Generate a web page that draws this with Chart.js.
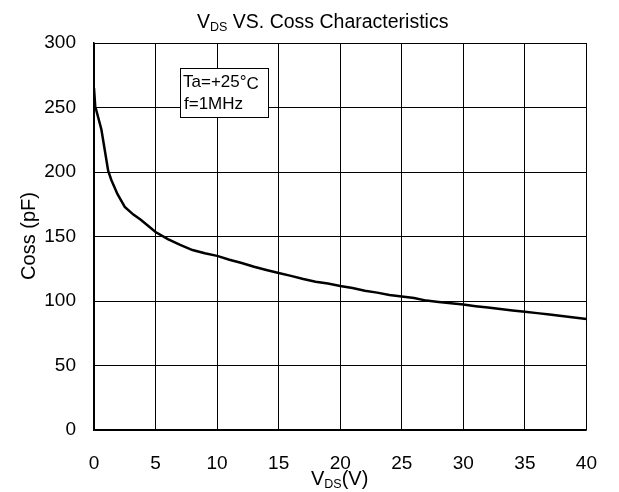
<!doctype html>
<html>
<head>
<title>VDS vs Coss</title>
<script src="https://cdn.jsdelivr.net/npm/chart.js@4/dist/chart.umd.min.js"></script>
<style>
  html, body { margin: 0; padding: 0; background: #fff; }
  #wrap { width: 619px; height: 492px; }
</style>
</head>
<body>
<div id="wrap"><canvas id="chart" width="619" height="492"></canvas></div>
<script>
// values
var vds = [0, 0.1, 0.6, 1.15, 1.4, 1.9, 2.5, 3.2, 3.8, 5, 6, 7, 8, 9, 10, 11, 12, 13, 14, 15, 16, 17, 18, 19, 20,
           21, 22, 23, 24, 25, 26, 27, 28, 29, 30, 31, 32, 33, 34, 35, 36, 37, 38, 39, 40];
var coss = [265, 251, 233, 201, 194, 183, 173, 167, 163, 153.5, 148, 143.5, 139.5, 137, 135, 132, 129.5, 126.5, 124, 121.7, 119.5, 117, 115, 113.5, 111.6,
            110, 108, 106.5, 104.6, 103.5, 102.3, 100.3, 99.3, 98.2, 97.2, 96, 94.9, 93.8, 92.7, 91.7, 90.6, 89.5, 88.3, 87.2, 86];
var xTicks = [0, 5, 10, 15, 20, 25, 30, 35, 40];
var yTicks = [0, 50, 100, 150, 200, 250, 300];

var FONT = "'Liberation Sans', Arial, sans-serif";

var points = vds.map(function(v, i) { return { x: v, y: coss[i] }; });

// draws "V" + subscript "DS" + rest, left aligned at x
function subText(ctx, x, base, size, subSize, rest) {
  ctx.font = size + 'px ' + FONT;
  ctx.fillText('V', x, base);
  x += ctx.measureText('V').width;
  ctx.font = subSize + 'px ' + FONT;
  ctx.fillText('DS', x, base + 3);
  x += ctx.measureText('DS').width;
  ctx.font = size + 'px ' + FONT;
  ctx.fillText(rest, x, base);
}

// titles and the condition box
var extras = {
  id: 'extras',
  afterDraw: function(chart) {
    var ctx = chart.ctx;
    ctx.save();
    ctx.fillStyle = '#000';
    ctx.textBaseline = 'alphabetic';
    ctx.textAlign = 'left';

    subText(ctx, 197, 28, 19.5, 12.5, ' VS. Coss Characteristics');
    subText(ctx, 311, 485, 20, 12.5, '(V)');

    // y axis title
    ctx.save();
    ctx.translate(35, 236);
    ctx.rotate(-Math.PI / 2);
    ctx.textAlign = 'center';
    ctx.font = '20px ' + FONT;
    ctx.fillText('Coss (pF)', 0, 0);
    ctx.restore();

    // condition box
    ctx.fillStyle = '#fff';
    ctx.fillRect(180.5, 68.5, 88, 49);
    ctx.strokeStyle = '#000';
    ctx.lineWidth = 1;
    ctx.strokeRect(180.5, 68.5, 88, 49);
    ctx.fillStyle = '#000';
    ctx.font = '17px ' + FONT;
    ctx.fillText('Ta=+25\u00b0', 183, 87);
    ctx.fillText('C', 183 + ctx.measureText('Ta=+25\u00b0').width, 88.5);
    ctx.fillText('f=1MHz', 184, 109);
    ctx.restore();
  }
};

new Chart(document.getElementById('chart'), {
  type: 'line',
  data: {
    datasets: [{
      data: points,
      borderColor: '#000',
      borderWidth: 2.5,
      pointRadius: 0,
      tension: 0,
      fill: false
    }]
  },
  options: {
    responsive: false,
    animation: false,
    layout: { padding: { top: 43, right: 32, left: 0, bottom: 0 } },
    plugins: { legend: { display: false }, title: { display: false }, tooltip: { enabled: false } },
    scales: {
      x: {
        type: 'linear',
        min: 0, max: 40,
        afterFit: function(s) { s.height = 62; },
        afterBuildTicks: function(s) { s.ticks = xTicks.map(function(v) { return { value: v }; }); },
        grid: { color: '#000', lineWidth: 1, drawTicks: false },
        border: { color: '#000', width: 1.5 },
        ticks: { color: '#000', padding: 22, maxRotation: 0, font: { size: 19, family: FONT } }
      },
      y: {
        min: 0, max: 300,
        afterFit: function(s) { s.width = 94; },
        afterBuildTicks: function(s) { s.ticks = yTicks.map(function(v) { return { value: v }; }); },
        grid: { color: '#000', lineWidth: 1, drawTicks: false },
        border: { color: '#000', width: 1.5 },
        ticks: { color: '#000', padding: 18, font: { size: 19, family: FONT } }
      }
    }
  },
  plugins: [extras]
});
</script>
</body>
</html>
